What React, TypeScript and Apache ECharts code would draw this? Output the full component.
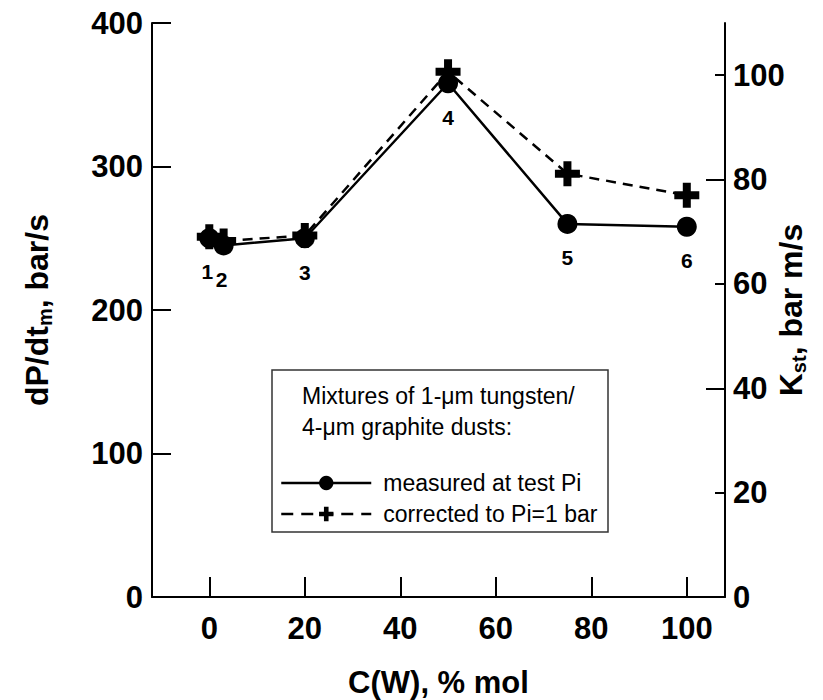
import React, { useEffect, useRef } from "react";
import * as echarts from "echarts";

const FONT = "'Liberation Sans', Arial, Helvetica, sans-serif";

// C(W), % mol
const measuredX = [0, 3, 20, 50, 75, 100];
const measuredY = [250, 245, 250, 358, 260, 258];
const correctedX = [0, 3, 20, 50, 75, 100];
const correctedY = [251, 248, 252, 366, 295, 280];
const pointLabels = ["1", "2", "3", "4", "5", "6"];

const xTicks = [0, 20, 40, 60, 80, 100];
const rightLabels = [0, 20, 40, 60, 80, 100];
const rightMinorTicks = [20, 60, 100];
const rightMajorTicks = [0, 40, 80];

const seriesNames = ["measured at test Pi", "corrected to Pi=1 bar"];
const legendTitle = ["Mixtures of 1-\u03bcm tungsten/", "4-\u03bcm graphite dusts:"];

const PLUS =
  "path://M8.5,0H16.5V8.5H25V16.5H16.5V25H8.5V16.5H0V8.5H8.5Z";

export default function App() {
  const ref = useRef<HTMLDivElement>(null);
  useEffect(() => {
    document.body.style.margin = "0";
    const chart = echarts.init(ref.current!, null, { renderer: "svg" });
    const axisLine = { show: true, onZero: false, lineStyle: { color: "#000", width: 2 } };
    const tickLabel = {
      color: "#000",
      fontFamily: FONT,
      fontWeight: "bold" as const,
      fontSize: 31,
    };
    const labelOffsets: Record<number, number[]> = { 0: [-2, 33], 1: [-2, 34] };
    const nameRich = {
      a: { fontSize: 32, fontWeight: "bold", fontFamily: FONT, color: "#000", lineHeight: 36 },
      b: { fontSize: 20, fontWeight: "bold", fontFamily: FONT, color: "#000", verticalAlign: "bottom", lineHeight: 23 },
    };
    chart.setOption({
      animation: false,
      backgroundColor: "#fff",
      textStyle: { fontFamily: FONT },
      grid: {
        left: 152,
        right: 98,
        top: 23,
        bottom: 103,
        containLabel: false,
        outerBoundsMode: "none",
      },
      xAxis: {
        type: "value",
        min: -12,
        max: 108,
        name: "C(W), % mol",
        nameLocation: "middle",
        nameGap: 70,
        nameMoveOverlap: false,
        nameTextStyle: {
          fontSize: 31,
          lineHeight: 31,
          fontWeight: "bold",
          color: "#000",
          fontFamily: FONT,
        },
        axisLine,
        splitLine: { show: false },
        axisTick: {
          show: true,
          inside: true,
          length: 20,
          customValues: xTicks,
          lineStyle: { color: "#000", width: 2 },
        },
        axisLabel: { ...tickLabel, margin: 16, customValues: xTicks },
      },
      yAxis: [
        {
          type: "value",
          position: "left",
          min: 0,
          max: 400,
          interval: 100,
          name: "{a|dP/dt}{b|m}{a|, bar/s}",
          nameLocation: "middle",
          nameGap: 97,
          nameRotate: 90,
          nameMoveOverlap: false,
          nameTextStyle: { color: "#000", rich: nameRich },
          axisLine,
          splitLine: { show: false },
          axisTick: { show: true, inside: true, length: 19, lineStyle: { color: "#000", width: 2 } },
          axisLabel: { ...tickLabel, margin: 9 },
        },
        {
          type: "value",
          position: "right",
          min: 0,
          max: 110,
          name: "{a|K}{b|st}{a|, bar m/s}",
          nameLocation: "middle",
          nameGap: 48,
          nameRotate: 90,
          nameMoveOverlap: false,
          nameTextStyle: { color: "#000", rich: nameRich },
          axisLine,
          splitLine: { show: false },
          axisTick: {
            show: true,
            inside: true,
            length: 10,
            customValues: rightMinorTicks,
            lineStyle: { color: "#000", width: 2 },
          },
          axisLabel: { ...tickLabel, margin: 8, customValues: rightLabels },
        },
        {
          type: "value",
          position: "right",
          min: 0,
          max: 110,
          axisLine: { show: false, onZero: false },
          splitLine: { show: false },
          axisTick: {
            show: true,
            inside: true,
            length: 19,
            customValues: rightMajorTicks,
            lineStyle: { color: "#000", width: 2 },
          },
          axisLabel: { show: false },
        },
      ],
      legend: {
        data: [
          { name: seriesNames[0], lineStyle: { width: 2.5, type: "solid" } },
          { name: seriesNames[1], lineStyle: { width: 2.5, type: [12, 8] } },
        ],
        orient: "vertical",
        left: 280,
        top: 471,
        itemWidth: 90,
        itemHeight: 18,
        itemGap: 7,
        padding: 0,
        selectedMode: false,
        lineStyle: { width: 2.5 },
        textStyle: {
          fontSize: 23,
          color: "#000",
          fontFamily: FONT,
          lineHeight: 24,
          padding: [0, 0, 0, 7],
        },
      },
      graphic: [
        {
          type: "rect",
          shape: { x: 272, y: 370, width: 336, height: 162 },
          style: { fill: "#fff", stroke: "#333", lineWidth: 1.5 },
          z: 1,
          silent: true,
        },
        {
          type: "text",
          x: 302,
          y: 396,
          style: {
            text: legendTitle[0],
            font: `23px ${FONT}`,
            fill: "#000",
            verticalAlign: "middle",
          },
          z: 2,
        },
        {
          type: "text",
          x: 302,
          y: 427,
          style: {
            text: legendTitle[1],
            font: `23px ${FONT}`,
            fill: "#000",
            verticalAlign: "middle",
          },
          z: 2,
        },
      ],
      series: [
        {
          name: seriesNames[1],
          type: "line",
          data: correctedX.map((x, i) => [x, correctedY[i]]),
          symbol: PLUS,
          symbolSize: 25,
          itemStyle: { color: "#000" },
          lineStyle: { color: "#000", width: 2.5, type: [10, 7] },
          z: 3,
        },
        {
          name: seriesNames[0],
          type: "line",
          data: measuredX.map((x, i) => ({
            value: [x, measuredY[i]],
            label: {
              show: true,
              formatter: pointLabels[i],
              position: "inside",
              offset: labelOffsets[i] || [0, 34],
              fontSize: 21,
              fontWeight: "bold",
              color: "#000",
              fontFamily: FONT,
            },
          })),
          symbol: "circle",
          symbolSize: 20,
          itemStyle: { color: "#000" },
          lineStyle: { color: "#000", width: 2.5 },
          z: 4,
        },
      ],
    });
    return () => chart.dispose();
  }, []);
  return <div ref={ref} style={{ width: 823, height: 700 }} />;
}
